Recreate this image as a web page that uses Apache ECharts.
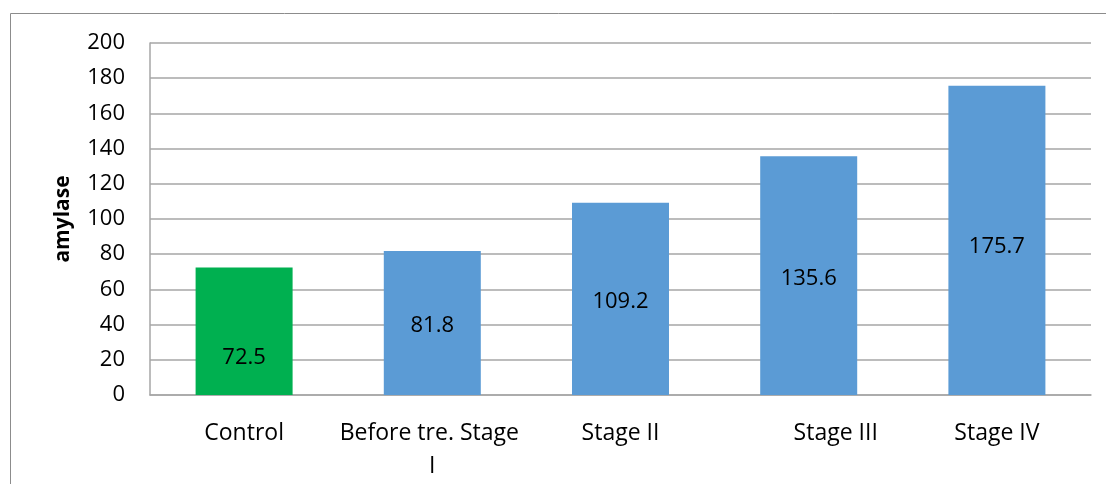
<!DOCTYPE html>
<html>
<head>
<meta charset="utf-8">
<script src="https://cdn.jsdelivr.net/npm/echarts@6/dist/echarts.min.js"></script>
<style>
  html, body { margin: 0; padding: 0; background: #fff; }
  #chart { width: 1106px; height: 484px; }
</style>
</head>
<body>
<div id="chart"></div>
<script>
var categories = ['Control', 'Before tre. Stage I', 'Stage II', 'Stage III', 'Stage IV'];
var values = [72.5, 81.8, 109.2, 135.6, 175.7];
var barColors = ['#00b050', '#5b9bd5', '#5b9bd5', '#5b9bd5', '#5b9bd5'];
var yTicks = [0, 20, 40, 60, 80, 100, 120, 140, 160, 180, 200];

var font = '"Open Sans", sans-serif';

var chart = echarts.init(document.getElementById('chart'));

var xData = categories.map(function (c, i) {
    // Stage III label sits a bit right of its bar in the original
    if (i === 3) return { value: c, textStyle: { padding: [0, 0, 0, 54] } };
    return c;
});

var option = {
    animation: false,
    graphic: [{
        type: 'rect',
        shape: { x: 10.5, y: 13.5, width: 1200, height: 600 },
        style: { fill: 'none', stroke: '#8c8c8c', lineWidth: 1 },
        silent: true
    }],
    grid: {
        left: 150,
        right: 15,
        top: 43,
        bottom: 89
    },
    xAxis: {
        type: 'category',
        data: xData,
        axisLine: { lineStyle: { color: '#a6a6a6', width: 1.5 } },
        axisTick: { show: false },
        axisLabel: {
            color: '#000',
            fontFamily: font,
            fontSize: 23,
            margin: 22,
            width: 186,
            overflow: 'break',
            lineHeight: 33,
            interval: 0
        }
    },
    yAxis: {
        type: 'value',
        min: yTicks[0],
        max: yTicks[yTicks.length - 1],
        interval: 20,
        name: 'amylase',
        nameLocation: 'middle',
        nameGap: 76,
        nameRotate: 90,
        nameTextStyle: { color: '#000', fontFamily: font, fontSize: 21, fontWeight: 'bold' },
        axisLine: { show: true, lineStyle: { color: '#a6a6a6', width: 1.5 } },
        axisTick: { show: false },
        axisLabel: { color: '#000', fontFamily: font, fontSize: 22, margin: 25 },
        splitLine: { lineStyle: { color: '#a6a6a6', width: 1.5 } }
    },
    series: [{
        type: 'bar',
        barWidth: 97,
        data: values.map(function (v, i) {
            var item = { value: v, itemStyle: { color: barColors[i] } };
            if (i === 0) item.label = { offset: [0, 27] };
            if (i === 4) item.label = { offset: [0, 6] };
            return item;
        }),
        label: {
            show: true,
            position: 'inside',
            offset: [0, 3],
            color: '#000',
            fontFamily: font,
            fontSize: 22
        }
    }]
};

chart.setOption(option);

window.onresize = function () {
    chart.resize();
};
</script>
</body>
</html>
